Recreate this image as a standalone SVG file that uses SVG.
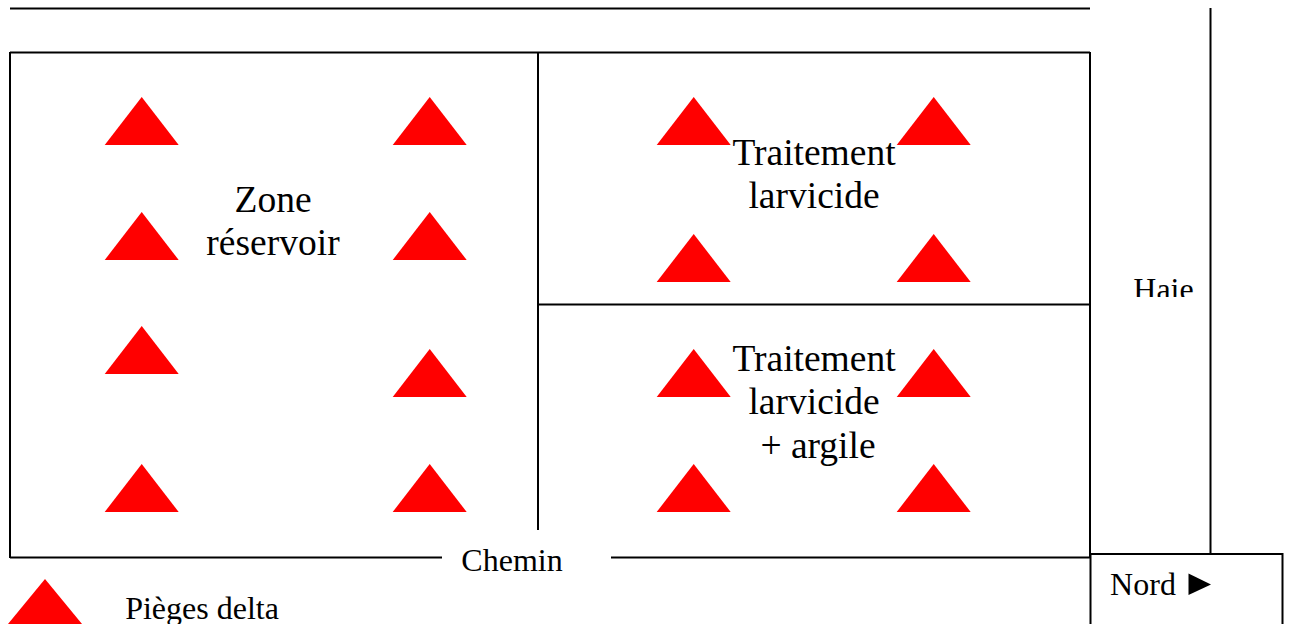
<svg xmlns="http://www.w3.org/2000/svg" width="1290" height="624" viewBox="0 0 1290 624">
<style>
text{font-family:"Liberation Serif","Times New Roman",serif;fill:#000;text-anchor:middle}
.big{font-size:37.500px}
.mid{font-size:32px}
.ln{stroke:#000;stroke-width:2;fill:none}
.trap{fill:#f00}
</style>
<defs>
<polygon id="t" points="-0.300,-48 36.700,0 -37.300,0"/>
<clipPath id="haieclip"><rect x="1100" y="260" width="100" height="37"/></clipPath>
</defs>
<rect width="1290" height="624" fill="#fff"/>
<g id="connectors">
<path class="ln" d="M10 8.500H1090"/>
<path class="ln" d="M1210.500 8V554"/>
<path class="ln" d="M10 52.500H1090M10 52V558M1090 52V558M538 52V530M538 304.500H1090"/>
<path class="ln" d="M10 557.500H442M611 557.500H1090"/>
</g>
<g id="zone-reservoir">
<g class="trap">
<use href="#t" x="142" y="145"/><use href="#t" x="430" y="145"/>
<use href="#t" x="142" y="260"/><use href="#t" x="430" y="260"/>
<use href="#t" x="142" y="374"/><use href="#t" x="430" y="397"/>
<use href="#t" x="142" y="512"/><use href="#t" x="430" y="512"/>
</g>
<text class="big" x="273" y="211.500">Zone</text>
<text class="big" x="273" y="254.500">réservoir</text>
</g>
<g id="traitement-larvicide">
<g class="trap">
<use href="#t" x="694" y="145"/><use href="#t" x="934" y="145"/>
<use href="#t" x="694" y="282"/><use href="#t" x="934" y="282"/>
</g>
<text class="big" x="814" y="165">Traitement</text>
<text class="big" x="814" y="208">larvicide</text>
</g>
<g id="traitement-argile">
<g class="trap">
<use href="#t" x="694" y="397"/><use href="#t" x="934" y="397"/>
<use href="#t" x="694" y="512"/><use href="#t" x="934" y="512"/>
</g>
<text class="big" x="814" y="371">Traitement</text>
<text class="big" x="814" y="414">larvicide</text>
<text class="big" x="818" y="458">+ argile</text>
</g>
<g id="haie"><text class="mid" x="1163.500" y="300" clip-path="url(#haieclip)">Haie</text></g>
<g id="chemin"><text class="mid" x="512" y="570.500">Chemin</text></g>
<g id="legende">
<polygon class="trap" points="45,579 82,624 8,624"/>
<text class="mid" x="202" y="619">Pièges delta</text>
</g>
<g id="nord">
<path d="M1090.500 624V554H1282.500V624" fill="#fff" stroke="#000" stroke-width="2"/>
<text class="mid" x="1143" y="595">Nord</text>
<polygon points="1188.500,573.500 1188.500,595 1211,584.500" fill="#000"/>
</g>
</svg>
